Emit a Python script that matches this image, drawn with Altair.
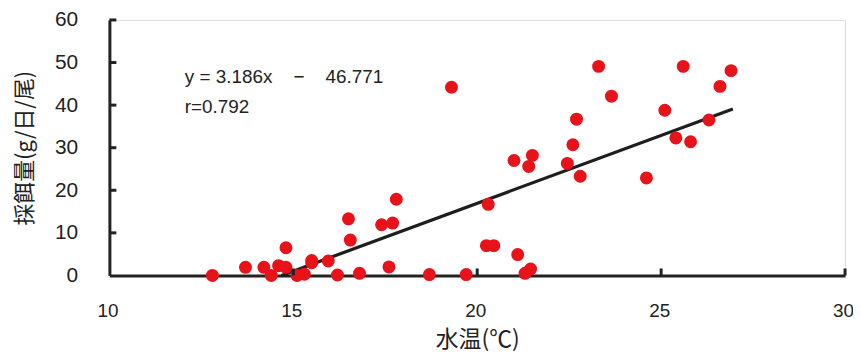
import altair as alt
import pandas as pd

# Data
water_temp = [12.8, 13.7, 14.2, 14.4, 14.6, 14.8, 14.8, 15.1, 15.3, 15.5, 15.5, 15.95,
              16.2, 16.5, 16.55, 16.8, 17.4, 17.6, 17.7, 17.8, 18.7, 19.3, 19.7,
              20.25, 20.45, 20.3, 21.1, 21.0, 21.3, 21.45, 21.4, 21.5, 22.45, 22.6,
              22.7, 22.8, 23.3, 23.65, 24.6, 25.1, 25.4, 25.6, 25.8, 26.3, 26.6, 26.9]
feeding = [0.0, 1.9, 1.9, 0.0, 2.3, 1.9, 6.5, 0.0, 0.3, 3.0, 3.5, 3.4,
           0.1, 13.3, 8.3, 0.5, 11.9, 2.0, 12.3, 17.9, 0.2, 44.2, 0.2,
           7.0, 7.0, 16.7, 4.9, 27.0, 0.5, 1.5, 25.6, 28.2, 26.3, 30.7,
           36.7, 23.3, 49.1, 42.1, 22.9, 38.8, 32.3, 49.1, 31.4, 36.5, 44.4, 48.1]

slope = 3.186
intercept = -46.771
fit_x = [14.68, 26.95]
fit_y = [slope * v + intercept for v in fit_x]

x_ticks = [10, 15, 20, 25, 30]
y_ticks = [0, 10, 20, 30, 40, 50, 60]
sp = "\u00a0" * 4
eq_lines = ["y = 3.186x" + sp + "\u2212" + sp + "46.771", "r=0.792"]
eq_x = [12.05, 12.05]
eq_y = [46.7, 39.5]

pts = pd.DataFrame({"t": water_temp, "f": feeding})
fit = pd.DataFrame({"t": fit_x, "f": fit_y})
ytk = pd.DataFrame({"v": y_ticks[1:]})
xtk = pd.DataFrame({"v": x_ticks[1:]})
eq = pd.DataFrame({"label": eq_lines, "t": eq_x, "f": eq_y})

xscale = alt.Scale(domain=[10, 30], nice=False, zero=False)
yscale = alt.Scale(domain=[0, 60], nice=False)

xaxis = alt.Axis(values=x_ticks, ticks=False, grid=False, domainWidth=3, domainColor="#222222",
                 labelFlush=False, labelOverlap=False, labelOffset=-2,
                 labelFont="Liberation Sans", labelFontSize=19, labelColor="#222222", labelPadding=26,
                 title="水温(℃)", titleFont="Noto Sans CJK JP", titleFontSize=23,
                 titleFontWeight="normal", titleColor="#222222", titlePadding=8)
yaxis = alt.Axis(values=y_ticks, ticks=False, grid=False, domainWidth=3, domainColor="#222222",
                 labelFlush=False, labelOverlap=False,
                 labelFont="Liberation Sans", labelFontSize=21, labelColor="#222222", labelPadding=32,
                 title="採餌量(g/日/尾)", titleFont="Noto Sans CJK JP", titleFontSize=22,
                 titleFontWeight="normal", titleColor="#222222", titlePadding=18)

base_pts = alt.Chart(pts).mark_circle(size=170, color="#e8121b", opacity=1).encode(
    x=alt.X("t:Q", scale=xscale, axis=xaxis),
    y=alt.Y("f:Q", scale=yscale, axis=yaxis),
)

line = alt.Chart(fit).mark_line(color="#1e1e1e", strokeWidth=3.2).encode(
    x=alt.X("t:Q", scale=xscale),
    y=alt.Y("f:Q", scale=yscale),
)

yticks = alt.Chart(ytk).mark_rule(color="#222222", strokeWidth=3).encode(
    y=alt.Y("v:Q", scale=yscale), x=alt.value(0), x2=alt.value(7)
)
xticks = alt.Chart(xtk).mark_rule(color="#222222", strokeWidth=3).encode(
    x=alt.X("v:Q", scale=xscale), y=alt.value(257), y2=alt.value(250)
)

text = alt.Chart(eq).mark_text(align="left", baseline="middle", font="Liberation Sans",
                               fontSize=19, color="#222222").encode(
    x=alt.X("t:Q", scale=xscale), y=alt.Y("f:Q", scale=yscale), text="label:N"
)

chart = alt.layer(line, base_pts, yticks, xticks, text).properties(
    width=740, height=257,
    autosize=alt.AutoSizeParams(type="none"),
    padding={"left": 102, "top": 11, "right": 8, "bottom": 80},
).configure_view(stroke=None).configure(background="white")

chart.save("out.html", embed_options={"renderer": "svg", "actions": False})
